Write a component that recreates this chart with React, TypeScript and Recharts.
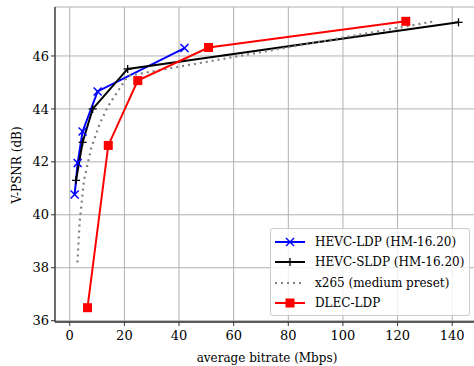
import React from 'react';
import { LineChart, Line, XAxis, YAxis, CartesianGrid } from 'recharts';

const hevcLdpRate = [1.8, 2.9, 4.7, 10.2, 42.0];
const hevcLdpPsnr = [40.77, 41.96, 43.15, 44.66, 46.3];
const hevcSldpRate = [2.3, 4.7, 8.4, 21.2, 142.3];
const hevcSldpPsnr = [41.3, 42.74, 44.0, 45.51, 47.27];
const x265Rate = [2.8, 3.6, 5.2, 7.8, 10.8, 14.0, 21.3, 133.0];
const x265Psnr = [38.2, 39.7, 41.3, 42.5, 43.4, 44.1, 45.25, 47.3];
const dlecRate = [6.5, 14.1, 24.9, 50.8, 123.0];
const dlecPsnr = [36.49, 42.62, 45.07, 46.32, 47.31];

const xTicks = [0, 20, 40, 60, 80, 100, 120, 140];
const yTicks = [36, 38, 40, 42, 44, 46];

const FONT = "'DejaVu Serif', serif";

const zip = (xs: number[], ys: number[]) => xs.map((x, i) => ({ x, y: ys[i] }));

const XMark = ({ cx, cy, color }: any) => (
    <g>
        <line x1={cx - 4} y1={cy - 4} x2={cx + 4} y2={cy + 4} stroke={color} strokeWidth={1.5} />
        <line x1={cx - 4} y1={cy + 4} x2={cx + 4} y2={cy - 4} stroke={color} strokeWidth={1.5} />
    </g>
);

const PlusMark = ({ cx, cy, color }: any) => (
    <g>
        <line x1={cx - 4} y1={cy} x2={cx + 4} y2={cy} stroke={color} strokeWidth={1.3} />
        <line x1={cx} y1={cy - 4} x2={cx} y2={cy + 4} stroke={color} strokeWidth={1.3} />
    </g>
);

const SquareMark = ({ cx, cy, color }: any) => (
    <rect x={cx - 4.5} y={cy - 4.5} width={9} height={9} fill={color} />
);

const series = [
    { name: 'HEVC-LDP (HM-16.20)', color: '#0000ff', data: zip(hevcLdpRate, hevcLdpPsnr), mark: XMark, dash: undefined },
    { name: 'HEVC-SLDP (HM-16.20)', color: '#000000', data: zip(hevcSldpRate, hevcSldpPsnr), mark: PlusMark, dash: undefined },
    { name: 'x265 (medium preset)', color: '#808080', data: zip(x265Rate, x265Psnr), mark: null, dash: '2 4' },
    { name: 'DLEC-LDP', color: '#ff0000', data: zip(dlecRate, dlecPsnr), mark: SquareMark, dash: undefined },
];

const LegendBox = () => (
    <div style={{
        position: 'absolute', left: 270, top: 228,
        width: 200, height: 88, boxSizing: 'border-box', background: 'rgba(255,255,255,0.8)',
        border: '1px solid #cccccc', borderRadius: 3, paddingTop: 3, fontFamily: FONT,
    }}>
        {series.map((s, i) => {
            const Mark = s.mark;
            return (
                <div key={i} style={{ display: 'flex', alignItems: 'center', height: 20.3 }}>
                    <svg width={44} height={12} style={{ flex: 'none' }}>
                        <line x1={4} y1={6} x2={34} y2={6} stroke={s.color}
                            strokeWidth={s.dash ? 2.2 : 2} strokeDasharray={s.dash} />
                        {Mark && <Mark cx={19} cy={6} color={s.color} />}
                    </svg>
                    <span style={{ fontSize: 12, color: '#000', whiteSpace: 'nowrap' }}>{s.name}</span>
                </div>
            );
        })}
    </div>
);

const YLabel = () => (
    <text x={17} y={165} transform="rotate(-90 17 165)" textAnchor="middle" dominantBaseline="central"
        fill="#000" fontSize={12} fontFamily={FONT}>
        V-PSNR (dB)
    </text>
);

export default function App() {
    return (
        <div style={{ position: 'absolute', left: 0, top: 0, width: 474, height: 366, overflow: 'hidden', background: '#fff', fontFamily: FONT }}>
            <LineChart width={482} height={366} margin={{ top: 7, right: 3, left: 15, bottom: 0 }} style={{ fontFamily: FONT }}>
                <CartesianGrid stroke="#b0b0b0" strokeWidth={1} />
                <XAxis
                    xAxisId="top"
                    orientation="top"
                    type="number"
                    domain={[-5.4, 149.8]}
                    height={0}
                    tick={false}
                    tickLine={false}
                    axisLine={{ stroke: '#333', strokeWidth: 1.3 }}
                />
                <XAxis
                    dataKey="x"
                    type="number"
                    domain={[-5.4, 149.8]}
                    ticks={xTicks}
                    allowDataOverflow
                    height={44}
                    tickSize={4}
                    tickMargin={5}
                    tick={{ fill: '#000', fontSize: 13, fontFamily: FONT }}
                    tickLine={{ stroke: '#333' }}
                    axisLine={{ stroke: '#333', strokeWidth: 1.3 }}
                    label={{ value: 'average bitrate (Mbps)', position: 'insideBottom', offset: 4, fill: '#000', fontSize: 12, fontFamily: FONT }}
                />
                <YAxis
                    dataKey="y"
                    type="number"
                    domain={[35.95, 47.85]}
                    ticks={yTicks}
                    allowDataOverflow
                    width={40}
                    tickSize={4}
                    tick={{ fill: '#000', fontSize: 13, fontFamily: FONT }}
                    tickLine={{ stroke: '#333' }}
                    axisLine={{ stroke: '#333', strokeWidth: 1.3 }}
                    label={<YLabel />}
                />
                {series.map((s) => {
                    const Mark = s.mark;
                    return (
                        <Line
                            key={s.name}
                            data={s.data}
                            dataKey="y"
                            name={s.name}
                            type="linear"
                            stroke={s.color}
                            strokeWidth={s.dash ? 2.2 : 2}
                            strokeDasharray={s.dash}
                            dot={Mark ? (p: any) => <Mark key={`${s.name}-${p.index}`} cx={p.cx} cy={p.cy} color={s.color} /> : false}
                            activeDot={false}
                            isAnimationActive={false}
                        />
                    );
                })}
            </LineChart>
            <LegendBox />
        </div>
    );
}
